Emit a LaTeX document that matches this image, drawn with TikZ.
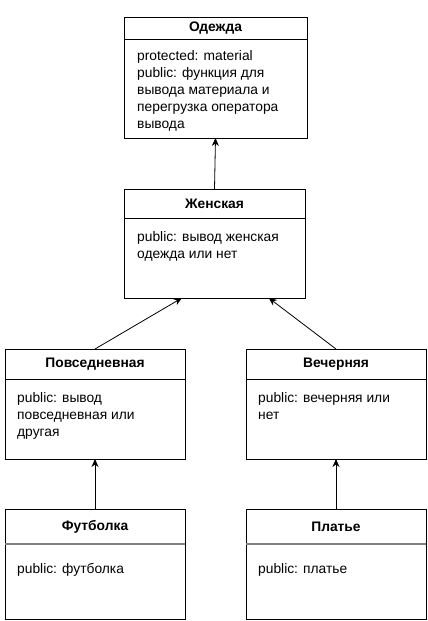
\documentclass[tikz,border=0pt]{standalone}
\usepackage{fontspec}
\setmainfont{Liberation Sans}
\usetikzlibrary{positioning,arrows.meta,calc}

\begin{document}
\begin{tikzpicture}[x=1pt, y=-1pt,
  classtitle/.style={
    draw, outer sep=0pt, minimum width=180pt, line width=0.8pt,
    font=\fontsize{13.8}{17}\selectfont\bfseries, align=center
  },
  classbody/.style={
    draw, outer sep=0pt, minimum width=180pt, line width=0.8pt
  },
  classtext/.style={
    anchor=north west, inner sep=0pt, align=left,
    font=\fontsize{13.8}{17}\selectfont
  },
  inherit/.style={
    -{Stealth[length=8pt, width=7pt]}, line width=0.8pt
  },
  sepline/.style={
    draw=gray, line width=1.6pt
  }
]
\useasboundingbox (0,0) rectangle (428,621);

% Classes
\node[classtitle, minimum width=183pt, minimum height=22pt] (odezhda) at (215.5, 28) {Одежда};
\node[classbody, minimum width=183pt, minimum height=99pt, below=0pt of odezhda] (odezhdaBody) {};
\node[classtext, below right=11pt and 13pt of odezhdaBody.north west] (odezhdaText)
  {protected: material\\public: функция для\\вывода материала и\\перегрузка оператора\\вывода};

\node[classtitle, minimum width=181pt, minimum height=29pt] (zhenskaya) at (214.5, 203.5) {Женская};
\node[classbody, minimum width=181pt, minimum height=80pt, below=0pt of zhenskaya] (zhenskayaBody) {};
\node[classtext, below right=13pt and 13pt of zhenskayaBody.north west] (zhenskayaText)
  {public: вывод женская\\одежда или нет};

\node[classtitle, minimum height=30pt] (povsed) at (95, 364) {Повседневная};
\node[classbody, minimum height=80pt, below=0pt of povsed] (povsedBody) {};
\node[classtext, below right=13pt and 12pt of povsedBody.north west] (povsedText)
  {public: вывод\\повседневная или\\другая};

\node[classtitle, minimum height=30pt] (vechern) at (336, 364) {Вечерняя};
\node[classbody, minimum height=80pt, below=0pt of vechern] (vechernBody) {};
\node[classtext, below right=13pt and 12pt of vechernBody.north west] (vechernText)
  {public: вечерняя или\\нет};

\node[classtitle, minimum height=35pt] (futbolka) at (95, 526.5) {Футболка};
\node[classbody, minimum height=75pt, below=0pt of futbolka] (futbolkaBody) {};
\node[classtext, below right=19pt and 12pt of futbolkaBody.north west] (futbolkaText)
  {public: футболка};

\node[classtitle, minimum height=35pt] (platye) at (336, 526.5) {Платье};
\node[classbody, minimum height=75pt, below=0pt of platye] (platyeBody) {};
\node[classtext, below right=19pt and 12pt of platyeBody.north west] (platyeText)
  {public: платье};

% Gray separators
\draw[sepline] (futbolka.south west) -- (futbolka.south east);
\draw[sepline] (platye.south west) -- (platye.south east);

% Inheritance arrows
\draw[inherit] (zhenskaya.north) -- (odezhdaBody.south);
\draw[inherit] (povsed.north) -- ($(zhenskayaBody.south)!0.36!(zhenskayaBody.south west)$);
\draw[inherit] (vechern.north) -- ($(zhenskayaBody.south)!0.6!(zhenskayaBody.south east)$);
\draw[inherit] (futbolka.north) -- (povsedBody.south);
\draw[inherit] (platye.north) -- (vechernBody.south);

\end{tikzpicture}
\end{document}
